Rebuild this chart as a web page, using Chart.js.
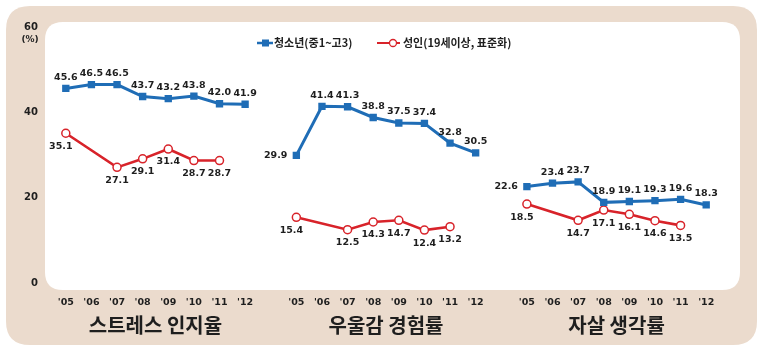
<!DOCTYPE html>
<html><head><meta charset="utf-8">
<script src="https://cdn.jsdelivr.net/npm/chart.js@4/dist/chart.umd.min.js"></script>
<style>html,body{margin:0;padding:0;background:#fff}#wrap{width:764px;height:354px;position:relative}</style>
</head><body><div id="wrap"><canvas id="c"></canvas></div>
<script>
const years = ["'05","'06","'07","'08","'09","'10","'11","'12"];
const groups = ["스트레스 인지율","우울감 경험률","자살 생각률"];
const seriesNames = ["청소년(중1~고3)","성인(19세이상, 표준화)"];
const youthStress = [45.6,46.5,46.5,43.7,43.2,43.8,42.0,41.9];
const youthDepression = [29.9,41.4,41.3,38.8,37.5,37.4,32.8,30.5];
const youthSuicide = [22.6,23.4,23.7,18.9,19.1,19.3,19.6,18.3];
const adultStress = [35.1,null,27.1,29.1,31.4,28.7,28.7,null];
const adultDepression = [15.4,null,12.5,14.3,14.7,12.4,13.2,null];
const adultSuicide = [18.5,null,14.7,17.1,16.1,14.6,13.5,null];
const yTicks = [0,20,40,60];

const GAP = 1;
const STRIDE = years.length + GAP;
const labels = [];
groups.forEach((g, gi) => {
  years.forEach(y => labels.push(y));
  if (gi < groups.length - 1) for (let k = 0; k < GAP; k++) labels.push('');
});
function place(arr, gi) {
  const out = new Array(labels.length).fill(null);
  arr.forEach((v, i) => { out[gi * STRIDE + i] = v; });
  return out;
}
const BLUE = '#1f6db6', RED = '#d8232a', BEIGE = '#ebdbcd', TXT = '#1e1e1e';
const youth = [youthStress, youthDepression, youthSuicide];
const adult = [adultStress, adultDepression, adultSuicide];
// label placement (style, not data)
const youthPos = [{}, {0: 'left'}, {0: 'left'}];
const adultPos = [{}, {}, {}];

const datasets = [];
youth.forEach((arr, gi) => datasets.push({
  label: seriesNames[0], data: place(arr, gi), borderColor: BLUE, backgroundColor: BLUE,
  pointStyle: 'rect', pointRadius: 5.2, pointHoverRadius: 5.2, borderWidth: 3,
  pointBorderWidth: 0, tension: 0, spanGaps: false, _lp: youthPos[gi], _side: 'top', order: 1
}));
adult.forEach((arr, gi) => datasets.push({
  label: seriesNames[1], data: place(arr, gi), borderColor: RED, backgroundColor: '#fff',
  pointBackgroundColor: '#fff', pointBorderColor: RED, pointStyle: 'circle',
  pointRadius: 4, pointHoverRadius: 4, pointBorderWidth: 1.5, borderWidth: 2.6,
  tension: 0, spanGaps: true, _lp: adultPos[gi], _side: 'bottom', order: 2
}));

function rr(ctx, x, y, w, h, r) {
  ctx.beginPath();
  ctx.moveTo(x + r, y); ctx.lineTo(x + w - r, y); ctx.quadraticCurveTo(x + w, y, x + w, y + r);
  ctx.lineTo(x + w, y + h - r); ctx.quadraticCurveTo(x + w, y + h, x + w - r, y + h);
  ctx.lineTo(x + r, y + h); ctx.quadraticCurveTo(x, y + h, x, y + h - r);
  ctx.lineTo(x, y + r); ctx.quadraticCurveTo(x, y, x + r, y); ctx.closePath();
}

const decor = {
  id: 'decor',
  beforeDraw(chart) {
    const ctx = chart.ctx;
    ctx.save();
    ctx.fillStyle = BEIGE; rr(ctx, 6, 6, 751, 339, 24); ctx.fill();
    ctx.fillStyle = '#fff'; rr(ctx, 45, 22, 695, 268, 18); ctx.fill();
    ctx.restore();
  },
  afterDraw(chart) {
    const ctx = chart.ctx, xs = chart.scales.x, ys = chart.scales.y;
    ctx.save();
    ctx.fillStyle = TXT;
    // (%) unit
    ctx.font = 'bold 9px "DejaVu Sans"';
    ctx.textAlign = 'center'; ctx.textBaseline = 'middle';
    ctx.fillText('(%)', 30, ys.getPixelForValue(60) + 13);
    // group titles
    ctx.font = 'bold 20px "Noto Sans CJK KR"';
    ctx.textAlign = 'center';
    groups.forEach((g, gi) => {
      const a = xs.getPixelForValue(gi * STRIDE), b = xs.getPixelForValue(gi * STRIDE + years.length - 1);
      ctx.fillText(g, (a + b) / 2, 325);
    });
    // legend
    ctx.font = 'bold 11px "Noto Sans CJK KR"';
    ctx.textAlign = 'left';
    const ly = 43;
    let x = 257;
    ctx.strokeStyle = BLUE; ctx.lineWidth = 2.5;
    ctx.beginPath(); ctx.moveTo(x, ly); ctx.lineTo(x + 16, ly); ctx.stroke();
    ctx.fillStyle = BLUE; ctx.fillRect(x + 5, ly - 3.5, 7, 7);
    ctx.fillStyle = TXT; ctx.fillText(seriesNames[0], x + 17, ly);
    x = 377;
    ctx.strokeStyle = RED; ctx.lineWidth = 2;
    ctx.beginPath(); ctx.moveTo(x, ly); ctx.lineTo(x + 23, ly); ctx.stroke();
    ctx.fillStyle = '#fff'; ctx.lineWidth = 1.3;
    ctx.beginPath(); ctx.arc(x + 16, ly, 3.5, 0, Math.PI * 2); ctx.fill(); ctx.stroke();
    ctx.fillStyle = TXT; ctx.fillText(seriesNames[1], x + 26, ly);
    ctx.restore();
  },
  afterDatasetsDraw(chart) {
    const ctx = chart.ctx;
    ctx.save();
    ctx.fillStyle = TXT;
    ctx.font = 'bold 9.5px "DejaVu Sans"';
    ctx.textBaseline = 'middle';
    chart.data.datasets.forEach((ds, di) => {
      const meta = chart.getDatasetMeta(di);
      meta.data.forEach((pt, i) => {
        const v = ds.data[i];
        if (v === null || v === undefined) return;
        const local = i % STRIDE;
        const pos = ds._lp[local] || ds._side;
        const t = v.toFixed(1);
        let tx = pt.x, ty = pt.y;
        if (pos === 'top') { ctx.textAlign = 'center'; ty = pt.y - 11; }
        else if (pos === 'bottom') { ctx.textAlign = 'center'; ty = pt.y + 13; if (local === 0) tx -= 5; }
        else if (pos === 'left') { ctx.textAlign = 'right'; tx = pt.x - 9; }
        ctx.fillText(t, tx, ty);
      });
    });
    ctx.restore();
  }
};

new Chart(document.getElementById('c'), {
  type: 'line',
  data: { labels, datasets },
  options: {
    responsive: true, maintainAspectRatio: false, animation: false,
    layout: { padding: { top: 27, right: 45, left: 0, bottom: 0 } },
    plugins: { legend: { display: false }, tooltip: { enabled: false } },
    scales: {
      x: {
        offset: true,
        grid: { display: false, drawTicks: false }, border: { display: false },
        ticks: { autoSkip: false, maxRotation: 0, padding: 14, color: TXT,
                 font: { family: 'DejaVu Sans', weight: 'bold', size: 9.5 } },
        afterFit(s) { s.height = 71; }
      },
      y: {
        min: 0, max: 60,
        afterBuildTicks(s) { s.ticks = yTicks.map(v => ({ value: v })); },
        grid: { display: false, drawTicks: false }, border: { display: false },
        ticks: { padding: 15, color: TXT, font: { family: 'DejaVu Sans', weight: 'bold', size: 10 } },
        afterFit(s) { s.width = 53; }
      }
    }
  },
  plugins: [decor]
});
</script>
</body></html>
